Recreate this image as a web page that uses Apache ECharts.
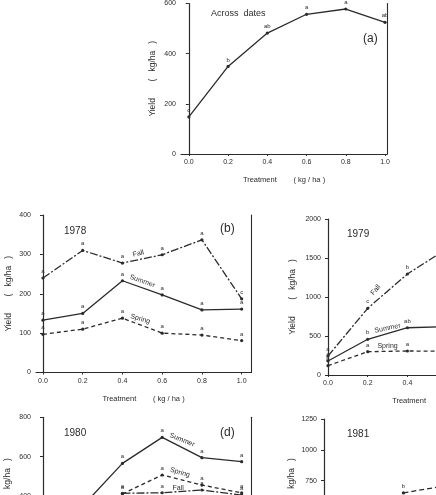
<!DOCTYPE html>
<html><head><meta charset="utf-8">
<script src="https://cdn.jsdelivr.net/npm/echarts@6/dist/echarts.min.js"></script>
<style>html,body{margin:0;padding:0;background:#fff;overflow:hidden;width:436px;height:495px}#c{width:640px;height:720px}</style>
</head><body><div id="c"></div>
<script>
// ---------- data ----------
const treatments = [0.0, 0.2, 0.4, 0.6, 0.8, 1.0];
const xTickValues = [0.0, 0.2, 0.4, 0.6, 0.8, 1.0];

// (a) across dates
const acrossYield = [148, 349, 482, 557, 578, 525];
const acrossLetters = ['c', 'b', 'ab', 'a', 'a', 'ab'];

// (b) 1978
const fall1978 = [240, 310, 278, 299, 337, 187];
const summer1978 = [133, 150, 233, 197, 159, 161];
const spring1978 = [97, 110, 138, 100, 95, 81];
const fall1978Letters = ['a', 'a', 'a', 'a', 'a', 'c'];
const summer1978Letters = ['a', 'a', 'a', 'a', 'a', 'a'];
const spring1978Letters = ['a', 'a', 'a', 'a', 'a', 'a'];

// (c) 1979 (right part cropped in the source)
const fall1979 = [244, 855, 1295, 1620, null, null];
const summer1979 = [180, 458, 606, 620, null, null];
const spring1979 = [120, 299, 308, 305, null, null];
const fall1979Letters = ['a', 'c', 'b', 'a', '', ''];
const summer1979Letters = ['c', 'b', 'ab', 'a', '', ''];
const spring1979Letters = ['b', 'a', 'a', 'a', '', ''];

// (d) 1980 (lower part cropped in the source)
const summer1980 = [null, 350, 566, 698, 595, 575];
const spring1980 = [null, null, 411, 507, 456, 416];
const fall1980 = [null, null, 414, 417, 431, 405];
const summer1980Letters = ['a', 'a', 'a', 'a', 'a', 'a'];
const spring1980Letters = ['a', 'a', 'a', 'a', 'a', 'a'];
const fall1980Letters = ['a', 'a', 'a', 'a', 'a', 'a'];

// (e) 1981 (mostly cropped in the source)
const fall1981 = [null, null, 650, 705, null, null];
const fall1981Letters = ['', '', 'b', 'a', '', ''];

// ---------- styling ----------
const INK = '#2b2b2b';
const FONT = 'Liberation Sans';
const DASH_FALL = [8, 2, 2, 2];
const DASH_SPRING = [4, 3];

function pairs(arr) { return treatments.map((t, i) => [t, arr[i] == null ? '-' : arr[i]]); }

function lineSeries(name, arr, letters, idx, dash, tag) {
  const s = {
    type: 'line', name: name, xAxisIndex: idx, yAxisIndex: idx,
    data: pairs(arr),
    symbol: 'circle', symbolSize: 3.2, showSymbol: true,
    itemStyle: { color: INK },
    lineStyle: { color: INK, width: 1.3, type: dash },
    label: { show: true, position: 'top', distance: 2, fontSize: 6, color: INK, fontFamily: FONT,
      formatter: p => letters[p.dataIndex] || '' },
    emphasis: { disabled: true },
    animation: false, z: 3
  };
  if (tag) {
    s.markPoint = {
      symbol: 'circle', symbolSize: 0, silent: true, animation: false,
      data: [{ coord: tag.at, value: 0,
        label: { show: true, position: 'inside', formatter: tag.text, rotate: tag.rot,
          fontSize: 7, color: INK, fontFamily: FONT } }]
    };
  }
  return s;
}

function xAx(gi, min, max, showName) {
  return {
    type: 'value', gridIndex: gi, min: min, max: max,
    name: showName ? 'Treatment        ( kg / ha )' : '',
    nameLocation: 'middle', nameGap: 22,
    nameTextStyle: { fontSize: 7.5, color: INK, fontFamily: FONT },
    axisLine: { show: true, lineStyle: { color: INK, width: 1.2 } },
    axisTick: { show: true, length: 2, customValues: xTickValues, lineStyle: { color: INK } },
    axisLabel: { customValues: xTickValues, formatter: v => v.toFixed(1), fontSize: 7, margin: 5,
      color: INK, fontFamily: FONT },
    splitLine: { show: false }
  };
}

function yAx(gi, max, interval, gap, margin) {
  return {
    type: 'value', gridIndex: gi, min: 0, max: max, interval: interval,
    name: 'Yield       (   kg/ha   )', nameLocation: 'middle', nameGap: gap,
    nameTextStyle: { fontSize: 8.5, color: INK, fontFamily: FONT },
    axisLine: { show: true, lineStyle: { color: INK, width: 1.2 } },
    axisTick: { show: true, length: 3, lineStyle: { color: INK } },
    axisLabel: { fontSize: 7, margin: margin, color: INK, fontFamily: FONT, showMaxLabel: true,
      formatter: v => String(v) },
    splitLine: { show: false }
  };
}

function rightBorder(gi, max) {
  return {
    type: 'value', gridIndex: gi, position: 'right', min: 0, max: max,
    axisLine: { show: true, lineStyle: { color: INK, width: 1.1 } },
    axisTick: { show: false }, axisLabel: { show: false }, splitLine: { show: false }
  };
}

const grids = [
  { left: 181, top: 1, width: 206, height: 153 },     // (a)
  { left: 36, top: 215, width: 215, height: 157.5 },  // (b) 1978
  { left: 326, top: 219, width: 214.5, height: 156 }, // (c) 1979
  { left: 36, top: 417.3, width: 215, height: 157.6 },// (d) 1980
  { left: 322, top: 419, width: 214.5, height: 154 }  // (e) 1981
];

const titleStyle = (size) => ({ fontSize: size, fontWeight: 'normal', color: INK, fontFamily: FONT });

const option = {
  backgroundColor: '#ffffff',
  animation: false,
  grid: grids,
  title: [
    { text: 'Across  dates', left: 206, top: 4, textStyle: titleStyle(9) },
    { text: '(a)', left: 358, top: 28, textStyle: titleStyle(12) },
    { text: '1978', left: 59, top: 221, textStyle: titleStyle(10) },
    { text: '(b)', left: 215, top: 218, textStyle: titleStyle(12) },
    { text: '1979', left: 342, top: 224, textStyle: titleStyle(10) },
    { text: '1980', left: 59, top: 423, textStyle: titleStyle(10) },
    { text: '(d)', left: 215, top: 422, textStyle: titleStyle(12) },
    { text: '1981', left: 342, top: 424, textStyle: titleStyle(10) }
  ],
  xAxis: [
    xAx(0, -0.04, 1.01, true),
    xAx(1, -0.035, 1.047, true),
    xAx(2, -0.01, 1.07, true),
    xAx(3, -0.035, 1.047, true),
    xAx(4, -0.01, 1.07, true)
  ],
  yAxis: [
    yAx(0, 600, 200, 24, 5),
    yAx(1, 400, 100, 23, 5),
    yAx(2, 2000, 500, 29, 5),
    yAx(3, 800, 200, 24, 5),
    yAx(4, 1250, 250, 26, 5),
    rightBorder(0, 600), rightBorder(1, 400), rightBorder(2, 2000), rightBorder(3, 800), rightBorder(4, 1250)
  ],
  series: [
    lineSeries('Across dates', acrossYield, acrossLetters, 0, 'solid'),

    lineSeries('Fall', fall1978, fall1978Letters, 1, DASH_FALL, { text: 'Fall', at: [0.48, 302], rot: 14 }),
    lineSeries('Summer', summer1978, summer1978Letters, 1, 'solid', { text: 'Summer', at: [0.5, 232], rot: -20 }),
    lineSeries('Spring', spring1978, spring1978Letters, 1, DASH_SPRING, { text: 'Spring', at: [0.49, 136], rot: -16 }),

    lineSeries('Fall', fall1979, fall1979Letters, 2, DASH_FALL, { text: 'Fall', at: [0.24, 1090], rot: 50 }),
    lineSeries('Summer', summer1979, summer1979Letters, 2, 'solid', { text: 'Summer', at: [0.3, 600], rot: 12 }),
    lineSeries('Spring', spring1979, spring1979Letters, 2, DASH_SPRING, { text: 'Spring', at: [0.3, 372], rot: 0 }),

    lineSeries('Summer', summer1980, summer1980Letters, 3, 'solid', { text: 'Summer', at: [0.7, 685], rot: -22 }),
    lineSeries('Spring', spring1980, spring1980Letters, 3, DASH_SPRING, { text: 'Spring', at: [0.69, 520], rot: -16 }),
    lineSeries('Fall', fall1980, fall1980Letters, 3, DASH_FALL, { text: 'Fall', at: [0.68, 443], rot: 0 }),

    lineSeries('Fall', fall1981, fall1981Letters, 4, [5, 3])
  ]
};

const chart = echarts.init(document.getElementById('c'), null, { renderer: 'canvas' });
chart.setOption(option);
</script>
</body></html>
